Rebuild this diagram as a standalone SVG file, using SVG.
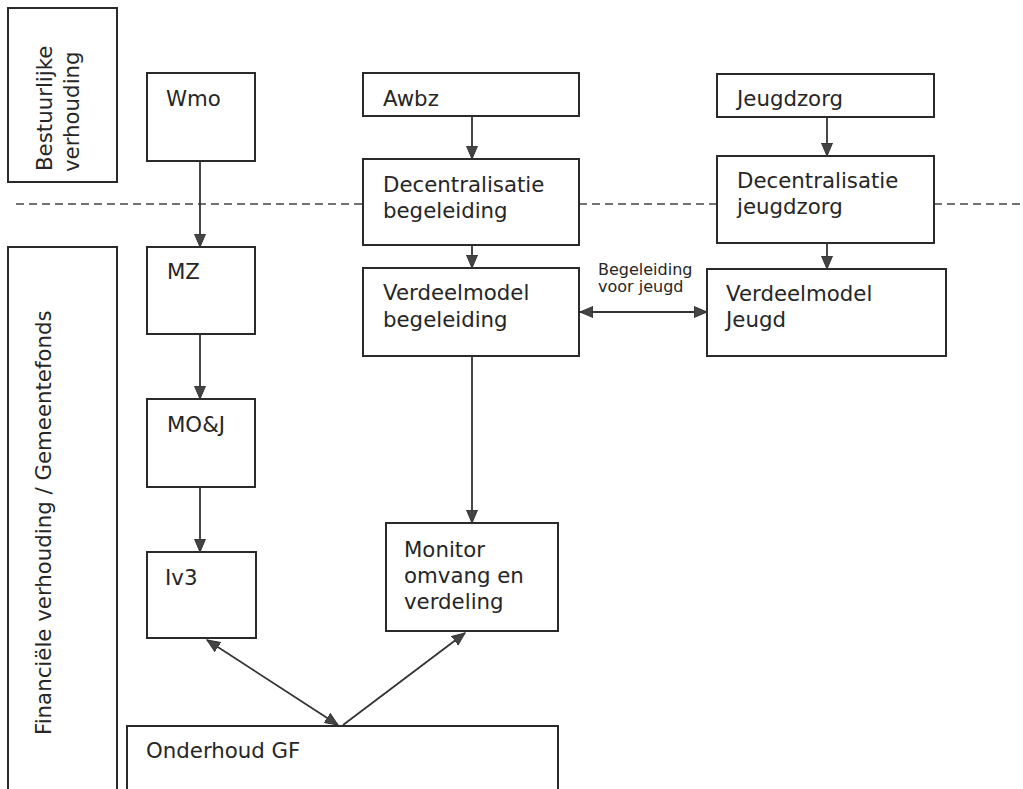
<svg xmlns="http://www.w3.org/2000/svg" width="1023" height="789" viewBox="0 0 1023 789">
<style>
.box{fill:#fff;stroke:#2a2a2a;stroke-width:2}
.t{font-family:"DejaVu Sans","Liberation Sans",sans-serif;font-size:21.3px;fill:#262626}
.s{font-family:"DejaVu Sans","Liberation Sans",sans-serif;font-size:16px;fill:#262626}
.ln{fill:none;stroke:#333;stroke-width:1.8}
.dash{fill:none;stroke:#444;stroke-width:1.6;stroke-dasharray:8 5}
</style>
<defs>
<marker id="ah" markerUnits="userSpaceOnUse" markerWidth="14" markerHeight="12" viewBox="0 0 14 12" refX="13" refY="6" orient="auto-start-reverse">
<path d="M0,0.5 L13,6 L0,11.5 Z" fill="#444" stroke="#333" stroke-width="1"/>
</marker>
</defs>
<rect width="1023" height="789" fill="#fff"/>
<g id="dashed-divider">
<line class="dash" x1="16" y1="204" x2="363" y2="204"/>
<line class="dash" x1="579" y1="204" x2="717" y2="204"/>
<line class="dash" x1="934" y1="204" x2="1023" y2="204"/>
</g>
<g id="label-bestuurlijk">
<rect class="box" x="8" y="8" width="109" height="174"/>
<text class="t" transform="translate(52,171) rotate(-90)">Bestuurlijke</text>
<text class="t" transform="translate(79,172) rotate(-90)">verhouding</text>
</g>
<g id="label-financieel">
<rect class="box" x="8" y="247" width="109" height="560"/>
<text class="t" transform="translate(51,735) rotate(-90)">Financiële verhouding / Gemeentefonds</text>
</g>
<g id="wmo"><rect class="box" x="147" y="73" width="108" height="88"/><text class="t" x="166" y="106">Wmo</text></g>
<g id="mz"><rect class="box" x="147" y="247" width="108" height="87"/><text class="t" x="167" y="279">MZ</text></g>
<g id="moj"><rect class="box" x="147" y="399" width="108" height="88"/><text class="t" x="167" y="432">MO&amp;J</text></g>
<g id="iv3"><rect class="box" x="147" y="552" width="109" height="86"/><text class="t" x="165" y="585">Iv3</text></g>
<g id="awbz"><rect class="box" x="363" y="73" width="216" height="43"/><text class="t" x="383" y="106">Awbz</text></g>
<g id="dec-begeleiding"><rect class="box" x="363" y="159" width="216" height="86"/><text class="t" x="383" y="192">Decentralisatie</text><text class="t" x="383" y="218">begeleiding</text></g>
<g id="verdeel-begeleiding"><rect class="box" x="363" y="268" width="216" height="88"/><text class="t" x="383" y="300">Verdeelmodel</text><text class="t" x="383" y="327">begeleiding</text></g>
<g id="monitor"><rect class="box" x="386" y="523" width="172" height="108"/><text class="t" x="404" y="557">Monitor</text><text class="t" x="404" y="583">omvang en</text><text class="t" x="404" y="609">verdeling</text></g>
<g id="jeugdzorg"><rect class="box" x="717" y="74" width="217" height="43"/><text class="t" x="737" y="106">Jeugdzorg</text></g>
<g id="dec-jeugdzorg"><rect class="box" x="717" y="156" width="217" height="87"/><text class="t" x="737" y="188">Decentralisatie</text><text class="t" x="737" y="214">jeugdzorg</text></g>
<g id="verdeel-jeugd"><rect class="box" x="707" y="269" width="239" height="87"/><text class="t" x="726" y="301">Verdeelmodel</text><text class="t" x="726" y="327">Jeugd</text></g>
<g id="onderhoud-gf"><rect class="box" x="127" y="726" width="431" height="80"/><text class="t" x="146" y="758">Onderhoud GF</text></g>
<g id="connectors">
<line class="ln" x1="200" y1="161" x2="200" y2="247" marker-end="url(#ah)"/>
<line class="ln" x1="200" y1="334" x2="200" y2="399" marker-end="url(#ah)"/>
<line class="ln" x1="200" y1="487" x2="200" y2="552" marker-end="url(#ah)"/>
<line class="ln" x1="472" y1="116" x2="472" y2="159" marker-end="url(#ah)"/>
<line class="ln" x1="472" y1="245" x2="472" y2="268" marker-end="url(#ah)"/>
<line class="ln" x1="472" y1="356" x2="472" y2="523" marker-end="url(#ah)"/>
<line class="ln" x1="827" y1="117" x2="827" y2="156" marker-end="url(#ah)"/>
<line class="ln" x1="827" y1="243" x2="827" y2="269" marker-end="url(#ah)"/>
<line class="ln" x1="580" y1="312" x2="707" y2="312" marker-start="url(#ah)" marker-end="url(#ah)"/>
<line class="ln" x1="207" y1="640" x2="338" y2="725" marker-start="url(#ah)" marker-end="url(#ah)"/>
<line class="ln" x1="343" y1="725" x2="465" y2="633" marker-end="url(#ah)"/>
<text class="s" x="598" y="275">Begeleiding</text>
<text class="s" x="598" y="292">voor jeugd</text>
</g>
</svg>
